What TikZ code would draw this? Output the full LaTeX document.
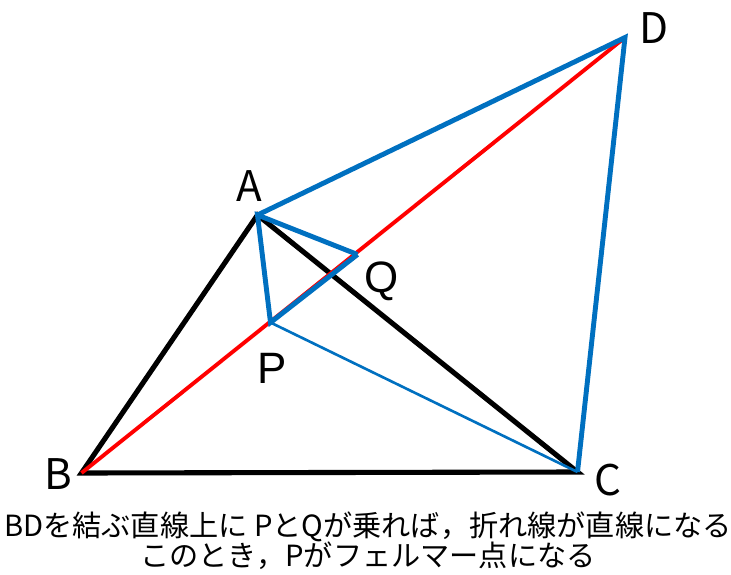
\documentclass[tikz,border=0pt]{standalone}
\usepackage{fontspec}
\setmainfont{Noto Sans CJK JP}
\newfontfamily\lab{Noto Sans CJK JP}
\newfontfamily\pq{Liberation Sans}
\definecolor{fblue}{RGB}{0,112,192}
\begin{document}
\begin{tikzpicture}[x=0.02cm,y=-0.02cm,
  blk/.style={line width=2.9pt,black},
  redl/.style={line width=2.2pt,red},
  bl/.style={line width=2.8pt,fblue},
  blthin/.style={line width=1.5pt,fblue},
  vlab/.style={font=\lab\fontsize{24}{27}\selectfont,inner sep=0pt},
  pqlab/.style={font=\pq\fontsize{25}{28}\selectfont,inner sep=0pt},
  caption/.style={font=\fontsize{16.6}{19}\selectfont,inner sep=0pt}]
\useasboundingbox (0,0) rectangle (731,575);
\coordinate (A) at (257.5,215);
\coordinate (B) at (81.5,473);
\coordinate (C) at (577.5,472);
\coordinate (D) at (625,37.5);
\coordinate (P) at (270.5,322.5);
\coordinate (Q) at (357.5,254.5);
\draw[blk,line join=miter] (A) -- (B) -- (C) -- cycle;
\draw[redl] (B) -- (D);
\draw[blthin] (P) -- (C);
\draw[bl,line join=miter] (A) -- (D) -- (C);
\draw[bl,line join=miter] (Q) -- (A) -- (P) -- (Q);
\node[vlab] (lA) at (249,186) {A};
\node[vlab] (lB) at (58.5,474) {B};
\node[vlab] (lC) at (608,480) {C};
\node[vlab] (lD) at (654,28) {D};
\node[pqlab] (lP) at (272,368) {P};
\node[pqlab] (lQ) at (382,281) {Q};
\node[caption] (t1) at (368,527) {BDを結ぶ直線上に PとQが乗れば，折れ線が直線になる};
\node[caption] (t2) at (368,556) {このとき，Pがフェルマー点になる};
\end{tikzpicture}
\end{document}
